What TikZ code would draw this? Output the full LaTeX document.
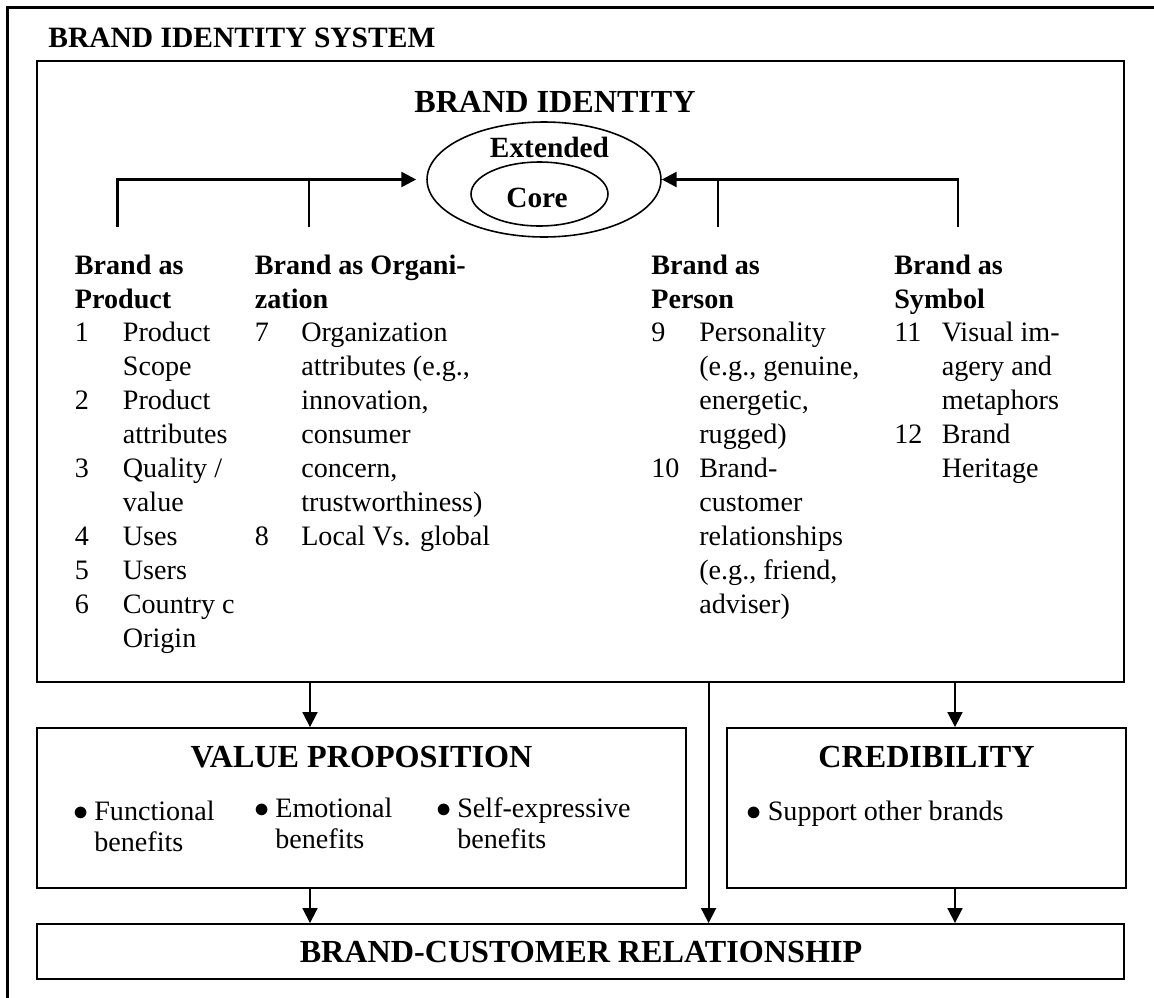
\documentclass[tikz,border=0pt]{standalone}
\usepackage{fontspec}
\setmainfont{Liberation Serif}
\usetikzlibrary{arrows.meta,shapes.geometric}
\newcommand{\bodyfont}{\fontsize{16}{19.35}\selectfont}
\newcommand{\titlefont}{\fontsize{18.3}{22}\selectfont\bfseries}
\newcommand{\headfont}{\fontsize{16.7}{20}\selectfont\bfseries}
\begin{document}
\begin{tikzpicture}[x=0.02cm,y=-0.02cm,>={Triangle[length=8.5pt,width=8.5pt]},
  box/.style={draw,line width=1.1pt,inner sep=0pt},
  ring/.style={draw,ellipse,line width=0.9pt,inner sep=0pt},
  col/.style={anchor=base west,inner sep=0pt,font=\bodyfont},
  ttl/.style={anchor=base,inner sep=0pt,font=\titlefont},
  link/.style={->,line width=1.1pt}]
\useasboundingbox (0,0) rectangle (1154,998);
\draw[line width=1.4pt] (1154,7.5)--(7.5,7.5)--(7.5,998);
\node[anchor=base west,inner sep=0pt,font=\fontsize{16.8}{20}\selectfont\bfseries] (sys) at (48,47) {BRAND IDENTITY SYSTEM};

% boxes
\node[box,minimum width=21.74cm,minimum height=12.42cm] (idbox) at (580.5,371.5) {};
\node[box,minimum width=12.98cm,minimum height=3.2cm] (vp) at (361.5,808) {};
\node[box,minimum width=7.98cm,minimum height=3.2cm] (cred) at (926.5,808) {};
\node[box,minimum width=21.74cm,minimum height=1.1cm] (bcr) at (580.5,951.5) {};

% brand identity
\node[ttl] (idttl) at (555,112) {BRAND IDENTITY};
\node[ring,minimum width=4.68cm,minimum height=2.3cm] (ext) at (544,179.5) {};
\node[ring,minimum width=2.74cm,minimum height=1.28cm] (core) at (539.5,194) {};
\node[anchor=base,inner sep=0pt,font=\headfont] (extlbl) at (549.5,157) {Extended};
\node[anchor=base,inner sep=0pt,font=\headfont] (corelbl) at (537,207) {Core};

\coordinate (prod) at (117.5,227);
\coordinate (org) at (309,227);
\coordinate (pers) at (718,227);
\coordinate (symb) at (958,227);
\draw[->,line width=1.5pt,shorten >=0.2cm] (prod) |- (ext.west);
\draw[line width=0.8pt] (org)--(org |- ext.west);
\draw[->,line width=1.5pt] (symb) |- (ext.east);
\draw[line width=0.8pt] (pers)--(pers |- ext.east);

% the four columns
\node[col] (product) at (74.6,274) {\begin{tabular}[t]{@{}p{0.96cm}@{}l@{}}
\multicolumn{2}{@{}l@{}}{\bfseries Brand as}\\
\multicolumn{2}{@{}l@{}}{\bfseries Product}\\
1 & Product\\ & Scope\\
2 & Product\\ & attributes\\
3 & Quality /\\ & value\\
4 & Uses\\
5 & Users\\
6 & Country c\\ & Origin
\end{tabular}};
\node[col] (organization) at (254.5,274) {\begin{tabular}[t]{@{}p{0.93cm}@{}l@{}}
\multicolumn{2}{@{}l@{}}{\bfseries Brand as Organi-}\\
\multicolumn{2}{@{}l@{}}{\bfseries zation}\\
7 & Organization\\ & attributes (e.g.,\\ & innovation,\\ & consumer\\ & concern,\\ & trustworthiness)\\
8 & Local Vs. global
\end{tabular}};
\node[col] (person) at (651,274) {\begin{tabular}[t]{@{}p{0.96cm}@{}l@{}}
\multicolumn{2}{@{}l@{}}{\bfseries Brand as}\\
\multicolumn{2}{@{}l@{}}{\bfseries Person}\\
9 & Personality\\ & (e.g., genuine,\\ & energetic,\\ & rugged)\\
10 & Brand-\\ & customer\\ & relationships\\ & (e.g., friend,\\ & adviser)
\end{tabular}};
\node[col] (symbol) at (894,274) {\begin{tabular}[t]{@{}p{0.95cm}@{}l@{}}
\multicolumn{2}{@{}l@{}}{\bfseries Brand as}\\
\multicolumn{2}{@{}l@{}}{\bfseries Symbol}\\
11 & Visual im-\\ & agery and\\ & metaphors\\
12 & Brand\\ & Heritage
\end{tabular}};

% value proposition and credibility
\node[ttl] (vpttl) at (361.5,767) {VALUE PROPOSITION};
\node[ttl] (credttl) at (926.5,767) {CREDIBILITY};
\node[ttl] (bcrttl) at (581,962) {BRAND-CUSTOMER RELATIONSHIP};
\node[col] (func) at (73,820) {\renewcommand\arraystretch{0.94}\begin{tabular}[t]{@{}p{0.42cm}@{}l@{}}$\bullet$ & Functional\\ & benefits\end{tabular}};
\node[col] (emo) at (254,817) {\renewcommand\arraystretch{0.94}\begin{tabular}[t]{@{}p{0.42cm}@{}l@{}}$\bullet$ & Emotional\\ & benefits\end{tabular}};
\node[col] (self) at (436,817) {\renewcommand\arraystretch{0.94}\begin{tabular}[t]{@{}p{0.42cm}@{}l@{}}$\bullet$ & Self-expressive\\ & benefits\end{tabular}};
\node[col] (support) at (746.5,820) {\begin{tabular}[t]{@{}p{0.42cm}@{}l@{}}$\bullet$ & Support other brands\end{tabular}};

% arrows down
\coordinate (vpx) at (310,0);
\coordinate (midx) at (708.6,0);
\coordinate (credx) at (955,0);
\draw[link] (idbox.south -| vpx)--(vp.north -| vpx);
\draw[link] (vp.south -| vpx)--(bcr.north -| vpx);
\draw[link] (idbox.south -| midx)--(bcr.north -| midx);
\draw[link] (idbox.south -| credx)--(cred.north -| credx);
\draw[link] (cred.south -| credx)--(bcr.north -| credx);
\end{tikzpicture}
\end{document}
